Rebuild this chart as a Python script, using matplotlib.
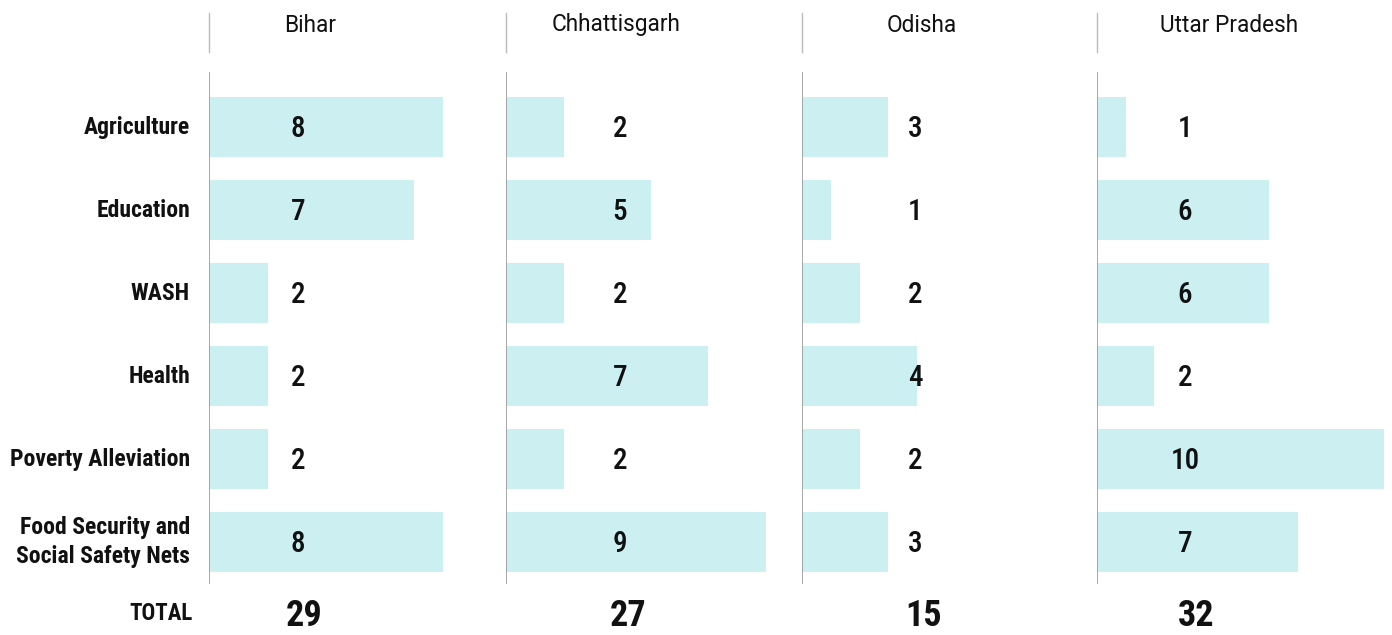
import matplotlib.pyplot as plt
import matplotlib.font_manager as fm

# data
states = ["Bihar", "Chhattisgarh", "Odisha", "Uttar Pradesh"]
categories = ["Agriculture", "Education", "WASH", "Health",
              "Poverty Alleviation", "Food Security and\nSocial Safety Nets"]
bihar = [8, 7, 2, 2, 2, 8]
chhattisgarh = [2, 5, 2, 7, 2, 9]
odisha = [3, 1, 2, 4, 2, 3]
uttar_pradesh = [1, 6, 6, 2, 10, 7]
totals = [29, 27, 15, 32]
values = [bihar, chhattisgarh, odisha, uttar_pradesh]

names = {f.name for f in fm.fontManager.ttflist}
narrow = next((n for n in ["Roboto Condensed", "Archivo Narrow", "Asap Condensed",
                           "Liberation Sans Narrow"] if n in names), "DejaVu Sans")

W, H = 1392, 635
fig = plt.figure(figsize=(W / 100, H / 100), dpi=100)

bar_color = "#ccf0f2"
panel_left = [209, 506, 802, 1097]
label_px = [298, 620, 915, 1185]    # value label centres
total_px = [304, 628, 924, 1196]
head_x = [310, 616, 922, 1229]
ppu = [29.25, 28.9, 28.8, 28.7]     # pixels per unit
top, bottom = 72, 584

axes = []
for i, st in enumerate(states):
    wpx = 296 if i < 3 else W - panel_left[i]
    ax = fig.add_axes([panel_left[i] / W, 1 - bottom / H, wpx / W, (bottom - top) / H])
    ax.set_xlim(0, wpx / ppu[i])
    ax.set_ylim(5.506, -0.663)
    ax.barh(range(len(categories)), values[i], height=0.723, color=bar_color, zorder=1)
    for j, v in enumerate(values[i]):
        ax.text((label_px[i] - panel_left[i]) / ppu[i], j + 0.02, str(v),
                ha="center", va="center", fontsize=21, fontweight="medium",
                family=narrow, color="#111111", zorder=3)
    ax.axvline(0, color="#999999", lw=1.2, zorder=2)
    for s in ax.spines.values():
        s.set_visible(False)
    ax.set_xticks([])
    ax.set_yticks([])
    ax.patch.set_alpha(0)
    axes.append(ax)

    # header
    fig.add_artist(plt.Line2D([panel_left[i] / W] * 2, [1 - 13 / H, 1 - 52 / H],
                              color="#bbbbbb", lw=1))
    fig.text(head_x[i] / W, 1 - 25 / H, st, ha="center", va="center",
             fontsize=16.3, family="Roboto", color="#111111")
    # total
    fig.text(total_px[i] / W, 1 - 616 / H, str(totals[i]),
             ha="center", va="center", fontsize=26, fontweight="bold",
             family=narrow, color="#111111")

# category labels
for j, c in enumerate(categories):
    axes[0].text(-19 / ppu[0], j, c, ha="right", va="center", fontsize=17,
                 fontweight="bold", family=narrow, color="#111111",
                 linespacing=1.35, clip_on=False)

fig.text(193 / W, 1 - 614 / H, "TOTAL", ha="right", va="center", fontsize=16.5,
         fontweight="bold", family=narrow, color="#111111")

fig.savefig("out.png", dpi=100)
